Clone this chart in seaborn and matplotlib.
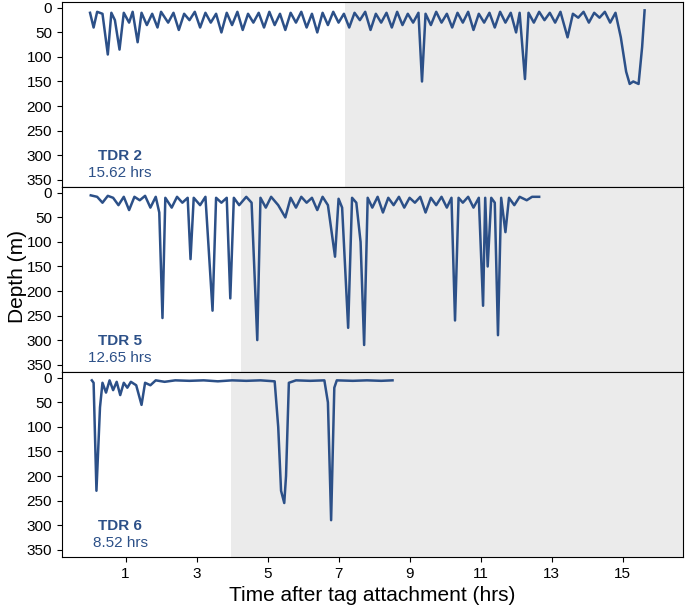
import matplotlib.pyplot as plt
import seaborn as sns
import pandas as pd

plt.rcParams['font.family'] = 'Liberation Sans'

# TDR 2
t2 = [0.0, 0.1, 0.2, 0.35, 0.5, 0.6, 0.7, 0.83, 0.95, 1.1, 1.2, 1.34, 1.45, 1.6, 1.75, 1.9, 2.0, 2.2, 2.35,
      2.5, 2.65, 2.8, 2.95, 3.1, 3.25, 3.4, 3.55, 3.7, 3.85, 4.0, 4.15, 4.3, 4.45, 4.6, 4.75, 4.9, 5.05, 5.2,
      5.35, 5.5, 5.65, 5.8, 5.95, 6.1, 6.25, 6.4, 6.55, 6.7, 6.85, 7.0, 7.15, 7.3, 7.45, 7.6, 7.75, 7.9, 8.05,
      8.2, 8.35, 8.5, 8.65, 8.8, 8.95, 9.1, 9.25, 9.35, 9.45, 9.6, 9.75, 9.9, 10.05, 10.2, 10.35, 10.5, 10.65,
      10.8, 10.95, 11.1, 11.25, 11.4, 11.55, 11.7, 11.85, 12.0, 12.1, 12.25, 12.35, 12.5, 12.65, 12.8, 12.95,
      13.1, 13.25, 13.45, 13.6, 13.75, 13.9, 14.05, 14.2, 14.35, 14.5, 14.65, 14.8, 14.95, 15.1, 15.2, 15.3,
      15.45, 15.55, 15.62]
d2 = [10, 40, 8, 12, 95, 10, 25, 85, 10, 30, 8, 70, 10, 35, 12, 40, 8, 30, 10,
      45, 12, 25, 8, 40, 10, 30, 12, 50, 10, 35, 8, 45, 12, 30, 10, 40, 8, 35,
      12, 45, 10, 30, 8, 40, 12, 50, 10, 35, 8, 30, 12, 40, 10, 25, 8, 45, 12,
      30, 10, 40, 8, 35, 12, 30, 10, 150, 12, 35, 8, 30, 12, 40, 10, 30, 8,
      45, 12, 30, 10, 40, 8, 30, 10, 50, 10, 145, 10, 30, 8, 25, 10,
      30, 8, 60, 12, 20, 8, 30, 10, 20, 8, 30, 10, 60, 130, 155, 150,
      155, 80, 5]

# TDR 5
t5 = [0.02, 0.2, 0.35, 0.5, 0.65, 0.8, 0.95, 1.1, 1.25, 1.4, 1.55, 1.7, 1.85, 1.95, 2.04, 2.12, 2.3, 2.45,
      2.6, 2.75, 2.83, 2.92, 3.1, 3.25, 3.45, 3.55, 3.7, 3.85, 3.95, 4.05, 4.2, 4.4, 4.55, 4.71, 4.8, 4.95,
      5.1, 5.3, 5.5, 5.65, 5.8, 5.95, 6.1, 6.25, 6.4, 6.55, 6.7, 6.9, 7.0, 7.1, 7.27, 7.38, 7.5, 7.62, 7.72,
      7.82, 7.95, 8.1, 8.25, 8.4, 8.55, 8.7, 8.85, 9.0, 9.15, 9.3, 9.45, 9.6, 9.75, 9.9, 10.05, 10.18, 10.28,
      10.38, 10.5, 10.65, 10.8, 10.95, 11.07, 11.13, 11.2, 11.3, 11.4, 11.49, 11.58, 11.7, 11.8, 11.95, 12.1,
      12.3, 12.45, 12.65]
d5 = [5, 8, 20, 6, 10, 25, 8, 35, 8, 15, 6, 30, 8, 40, 255, 10, 30, 8,
      20, 10, 135, 10, 25, 8, 240, 10, 20, 10, 215, 10, 25, 8, 20, 300, 10, 30,
      8, 25, 50, 10, 30, 8, 20, 10, 35, 8, 25, 130, 12, 30, 275, 10, 20, 100, 310,
      10, 30, 8, 40, 10, 25, 8, 30, 10, 20, 8, 40, 10, 25, 8, 30, 10, 260,
      10, 20, 8, 30, 10, 230, 10, 150, 10, 20, 290, 10, 80, 10, 25, 8,
      15, 8, 8]

# TDR 6
t6 = [0.05, 0.1, 0.18, 0.28, 0.35, 0.45, 0.55, 0.65, 0.75, 0.85, 0.95, 1.05, 1.15, 1.3, 1.45, 1.55, 1.7,
      1.85, 2.1, 2.4, 2.8, 3.2, 3.6, 4.0, 4.4, 4.8, 5.2, 5.3, 5.38, 5.47, 5.52, 5.6, 5.8, 6.2, 6.6, 6.7,
      6.79, 6.88, 6.95, 7.4, 7.8, 8.2, 8.52]
d6 = [5, 10, 230, 60, 10, 30, 5, 25, 8, 35, 10, 20, 8, 15, 55, 10, 15,
      5, 8, 5, 6, 5, 7, 5, 6, 5, 7, 100, 230, 255, 200, 10, 5, 6, 5, 50,
      290, 20, 5, 6, 5, 6, 5]

names = ['TDR 2', 'TDR 5', 'TDR 6']
durations = ['15.62 hrs', '12.65 hrs', '8.52 hrs']
night_start = [7.18, 4.26, 3.98]
series = [(t2, d2), (t5, d5), (t6, d6)]

blue = '#2c5088'
fig = plt.figure(figsize=(6.85, 6.14), dpi=100)
h = 185 / 614
axes = [fig.add_axes([0.09, 1 - (2 + 185 * (i + 1)) / 614, 0.907, h]) for i in range(3)]

for ax, (t, d), name, dur, ns in zip(axes, series, names, durations, night_start):
    ax.axvspan(ns, 17, color='#ebebeb', zorder=0, lw=0)
    df = pd.DataFrame({'t': t, 'd': d})
    sns.lineplot(data=df, x='t', y='d', ax=ax, color=blue, lw=1.8, sort=False)
    ax.set_xlim(-0.8, 16.7)
    ax.set_ylim(365, -12)
    ax.set_yticks(range(0, 351, 50))
    ax.set_xlabel('')
    ax.set_ylabel('')
    ax.tick_params(labelsize=11)
    ax.text(0.85, 310, name, color=blue, fontsize=11, fontweight='bold', ha='center')
    ax.text(0.85, 345, dur, color=blue, fontsize=11, ha='center')

for ax in axes[:2]:
    ax.set_xticks([])
axes[2].set_xticks(range(1, 16, 2))
axes[2].set_xlabel('Time after tag attachment (hrs)', fontsize=15)
fig.text(0.012, 0.55, 'Depth (m)', rotation=90, va='center', fontsize=15)

fig.savefig('out.png', dpi=100)
